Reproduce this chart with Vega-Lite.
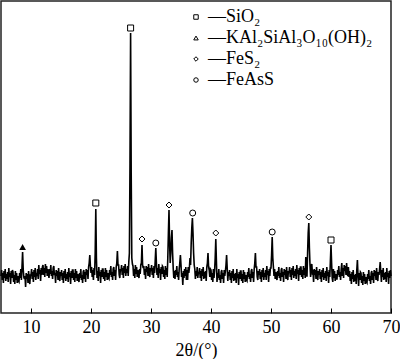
{
  "$schema": "https://vega.github.io/schema/vega-lite/v6.json",
  "width": 390,
  "height": 312,
  "autosize": {"type": "none"},
  "padding": {"left": 1, "top": 1, "right": 9, "bottom": 46},
  "background": "white",
  "config": {
    "font": "Liberation Serif, serif",
    "view": {"stroke": "#222", "strokeWidth": 1.5},
    "axis": {"labelFont": "Liberation Serif, serif", "titleFont": "Liberation Serif, serif"},
    "legend": {"labelFont": "Liberation Serif, serif", "titleFont": "Liberation Serif, serif"}
  },
  "datasets": {
    "xrd": [
      {"t":5.0,"v":37},{"t":5.1,"v":43},{"t":5.2,"v":33},{"t":5.3,"v":40},{"t":5.4,"v":30},{"t":5.5,"v":42},{"t":5.6,"v":35},{"t":5.7,"v":44},{"t":5.8,"v":32},{"t":5.9,"v":39},
      {"t":6.0,"v":34},{"t":6.1,"v":41},{"t":6.2,"v":31},{"t":6.3,"v":45},{"t":6.4,"v":36},{"t":6.5,"v":40},{"t":6.6,"v":29},{"t":6.7,"v":42},{"t":6.8,"v":35},{"t":6.9,"v":43},
      {"t":7.0,"v":41},{"t":7.1,"v":31},{"t":7.2,"v":38},{"t":7.3,"v":29},{"t":7.4,"v":42},{"t":7.5,"v":33},{"t":7.6,"v":40},{"t":7.7,"v":30},{"t":7.8,"v":37},{"t":7.9,"v":32},
      {"t":8.0,"v":31},{"t":8.1,"v":40},{"t":8.2,"v":35},{"t":8.3,"v":44},{"t":8.4,"v":33},{"t":8.5,"v":46},{"t":8.6,"v":61},{"t":8.7,"v":44},{"t":8.8,"v":36},{"t":8.9,"v":34},
      {"t":9.0,"v":37},{"t":9.1,"v":26},{"t":9.2,"v":40},{"t":9.3,"v":34},{"t":9.4,"v":39},{"t":9.5,"v":30},{"t":9.6,"v":42},{"t":9.7,"v":32},{"t":9.8,"v":29},{"t":9.9,"v":38},
      {"t":10.0,"v":38},{"t":10.1,"v":44},{"t":10.2,"v":34},{"t":10.3,"v":41},{"t":10.4,"v":31},{"t":10.5,"v":43},{"t":10.6,"v":36},{"t":10.7,"v":45},{"t":10.8,"v":33},{"t":10.9,"v":40},
      {"t":11.0,"v":37},{"t":11.1,"v":44},{"t":11.2,"v":34},{"t":11.3,"v":48},{"t":11.4,"v":39},{"t":11.5,"v":43},{"t":11.6,"v":32},{"t":11.7,"v":45},{"t":11.8,"v":38},{"t":11.9,"v":46},
      {"t":12.0,"v":48},{"t":12.1,"v":38},{"t":12.2,"v":45},{"t":12.3,"v":36},{"t":12.4,"v":49},{"t":12.5,"v":40},{"t":12.6,"v":47},{"t":12.7,"v":37},{"t":12.8,"v":44},{"t":12.9,"v":39},
      {"t":13.0,"v":35},{"t":13.1,"v":44},{"t":13.2,"v":39},{"t":13.3,"v":48},{"t":13.4,"v":37},{"t":13.5,"v":42},{"t":13.6,"v":34},{"t":13.7,"v":45},{"t":13.8,"v":47},{"t":13.9,"v":38},
      {"t":14.0,"v":40},{"t":14.1,"v":30},{"t":14.2,"v":43},{"t":14.3,"v":37},{"t":14.4,"v":42},{"t":14.5,"v":33},{"t":14.6,"v":45},{"t":14.7,"v":35},{"t":14.8,"v":32},{"t":14.9,"v":41},
      {"t":15.0,"v":37},{"t":15.1,"v":43},{"t":15.2,"v":33},{"t":15.3,"v":40},{"t":15.4,"v":30},{"t":15.5,"v":42},{"t":15.6,"v":35},{"t":15.7,"v":44},{"t":15.8,"v":32},{"t":15.9,"v":39},
      {"t":16.0,"v":34},{"t":16.1,"v":41},{"t":16.2,"v":31},{"t":16.3,"v":45},{"t":16.4,"v":36},{"t":16.5,"v":40},{"t":16.6,"v":29},{"t":16.7,"v":42},{"t":16.8,"v":35},{"t":16.9,"v":43},
      {"t":17.0,"v":43},{"t":17.1,"v":33},{"t":17.2,"v":40},{"t":17.3,"v":31},{"t":17.4,"v":44},{"t":17.5,"v":35},{"t":17.6,"v":42},{"t":17.7,"v":32},{"t":17.8,"v":39},{"t":17.9,"v":34},
      {"t":18.0,"v":31},{"t":18.1,"v":40},{"t":18.2,"v":35},{"t":18.3,"v":44},{"t":18.4,"v":33},{"t":18.5,"v":38},{"t":18.6,"v":30},{"t":18.7,"v":41},{"t":18.8,"v":43},{"t":18.9,"v":34},
      {"t":19.0,"v":41},{"t":19.1,"v":31},{"t":19.2,"v":44},{"t":19.3,"v":38},{"t":19.4,"v":43},{"t":19.5,"v":34},{"t":19.6,"v":46},{"t":19.7,"v":50},{"t":19.8,"v":58},{"t":19.9,"v":47},
      {"t":20.0,"v":40},{"t":20.1,"v":46},{"t":20.2,"v":36},{"t":20.3,"v":43},{"t":20.4,"v":33},{"t":20.5,"v":45},{"t":20.6,"v":38},{"t":20.7,"v":60},{"t":20.8,"v":104},{"t":20.9,"v":55},
      {"t":21.0,"v":35},{"t":21.1,"v":42},{"t":21.2,"v":32},{"t":21.3,"v":46},{"t":21.4,"v":37},{"t":21.5,"v":41},{"t":21.6,"v":30},{"t":21.7,"v":43},{"t":21.8,"v":36},{"t":21.9,"v":44},
      {"t":22.0,"v":44},{"t":22.1,"v":34},{"t":22.2,"v":41},{"t":22.3,"v":32},{"t":22.4,"v":45},{"t":22.5,"v":36},{"t":22.6,"v":43},{"t":22.7,"v":33},{"t":22.8,"v":40},{"t":22.9,"v":35},
      {"t":23.0,"v":34},{"t":23.1,"v":43},{"t":23.2,"v":38},{"t":23.3,"v":47},{"t":23.4,"v":36},{"t":23.5,"v":41},{"t":23.6,"v":33},{"t":23.7,"v":44},{"t":23.8,"v":46},{"t":23.9,"v":37},
      {"t":24.0,"v":43},{"t":24.1,"v":33},{"t":24.2,"v":46},{"t":24.3,"v":50},{"t":24.4,"v":62},{"t":24.5,"v":48},{"t":24.6,"v":48},{"t":24.7,"v":38},{"t":24.8,"v":35},{"t":24.9,"v":44},
      {"t":25.0,"v":42},{"t":25.1,"v":48},{"t":25.2,"v":38},{"t":25.3,"v":45},{"t":25.4,"v":35},{"t":25.5,"v":47},{"t":25.6,"v":40},{"t":25.7,"v":49},{"t":25.8,"v":37},{"t":25.9,"v":44},
      {"t":26.0,"v":40},{"t":26.1,"v":47},{"t":26.2,"v":37},{"t":26.3,"v":51},{"t":26.4,"v":60},{"t":26.5,"v":150},{"t":26.6,"v":280},{"t":26.7,"v":140},{"t":26.8,"v":55},{"t":26.9,"v":49},
      {"t":27.0,"v":47},{"t":27.1,"v":37},{"t":27.2,"v":44},{"t":27.3,"v":35},{"t":27.4,"v":48},{"t":27.5,"v":39},{"t":27.6,"v":46},{"t":27.7,"v":36},{"t":27.8,"v":43},{"t":27.9,"v":38},
      {"t":28.0,"v":35},{"t":28.1,"v":44},{"t":28.2,"v":39},{"t":28.3,"v":48},{"t":28.4,"v":50},{"t":28.5,"v":68},{"t":28.6,"v":48},{"t":28.7,"v":45},{"t":28.8,"v":47},{"t":28.9,"v":38},
      {"t":29.0,"v":44},{"t":29.1,"v":34},{"t":29.2,"v":47},{"t":29.3,"v":41},{"t":29.4,"v":46},{"t":29.5,"v":37},{"t":29.6,"v":49},{"t":29.7,"v":39},{"t":29.8,"v":36},{"t":29.9,"v":45},
      {"t":30.0,"v":42},{"t":30.1,"v":48},{"t":30.2,"v":38},{"t":30.3,"v":45},{"t":30.4,"v":35},{"t":30.5,"v":47},{"t":30.6,"v":40},{"t":30.7,"v":52},{"t":30.8,"v":65},{"t":30.9,"v":50},
      {"t":31.0,"v":38},{"t":31.1,"v":45},{"t":31.2,"v":35},{"t":31.3,"v":49},{"t":31.4,"v":40},{"t":31.5,"v":44},{"t":31.6,"v":33},{"t":31.7,"v":46},{"t":31.8,"v":39},{"t":31.9,"v":47},
      {"t":32.0,"v":46},{"t":32.1,"v":36},{"t":32.2,"v":43},{"t":32.3,"v":34},{"t":32.4,"v":47},{"t":32.5,"v":38},{"t":32.6,"v":45},{"t":32.7,"v":36},{"t":32.8,"v":55},{"t":32.9,"v":80},
      {"t":33.0,"v":103},{"t":33.1,"v":70},{"t":33.2,"v":50},{"t":33.3,"v":60},{"t":33.4,"v":75},{"t":33.5,"v":83},{"t":33.6,"v":60},{"t":33.7,"v":45},{"t":33.8,"v":35},{"t":33.9,"v":42},
      {"t":34.0,"v":34},{"t":34.1,"v":43},{"t":34.2,"v":38},{"t":34.3,"v":47},{"t":34.4,"v":36},{"t":34.5,"v":41},{"t":34.6,"v":33},{"t":34.7,"v":44},{"t":34.8,"v":50},{"t":34.9,"v":58},
      {"t":35.0,"v":48},{"t":35.1,"v":36},{"t":35.2,"v":40},{"t":35.3,"v":28},{"t":35.4,"v":42},{"t":35.5,"v":35},{"t":35.6,"v":44},{"t":35.7,"v":37},{"t":35.8,"v":46},{"t":35.9,"v":33},
      {"t":36.0,"v":43},{"t":36.1,"v":33},{"t":36.2,"v":46},{"t":36.3,"v":40},{"t":36.4,"v":45},{"t":36.5,"v":55},{"t":36.6,"v":48},{"t":36.7,"v":70},{"t":36.8,"v":85},{"t":36.9,"v":95},
      {"t":37.0,"v":80},{"t":37.1,"v":60},{"t":37.2,"v":48},{"t":37.3,"v":44},{"t":37.4,"v":34},{"t":37.5,"v":42},{"t":37.6,"v":37},{"t":37.7,"v":46},{"t":37.8,"v":35},{"t":37.9,"v":41},
      {"t":38.0,"v":39},{"t":38.1,"v":45},{"t":38.2,"v":35},{"t":38.3,"v":42},{"t":38.4,"v":32},{"t":38.5,"v":44},{"t":38.6,"v":37},{"t":38.7,"v":46},{"t":38.8,"v":34},{"t":38.9,"v":41},
      {"t":39.0,"v":35},{"t":39.1,"v":42},{"t":39.2,"v":32},{"t":39.3,"v":46},{"t":39.4,"v":50},{"t":39.5,"v":60},{"t":39.6,"v":46},{"t":39.7,"v":43},{"t":39.8,"v":36},{"t":39.9,"v":44},
      {"t":40.0,"v":43},{"t":40.1,"v":33},{"t":40.2,"v":40},{"t":40.3,"v":31},{"t":40.4,"v":44},{"t":40.5,"v":35},{"t":40.6,"v":42},{"t":40.7,"v":55},{"t":40.8,"v":74},{"t":40.9,"v":52},
      {"t":41.0,"v":31},{"t":41.1,"v":40},{"t":41.2,"v":35},{"t":41.3,"v":44},{"t":41.4,"v":33},{"t":41.5,"v":38},{"t":41.6,"v":30},{"t":41.7,"v":41},{"t":41.8,"v":43},{"t":41.9,"v":34},
      {"t":42.0,"v":40},{"t":42.1,"v":30},{"t":42.2,"v":43},{"t":42.3,"v":37},{"t":42.4,"v":42},{"t":42.5,"v":48},{"t":42.6,"v":58},{"t":42.7,"v":45},{"t":42.8,"v":32},{"t":42.9,"v":41},
      {"t":43.0,"v":37},{"t":43.1,"v":43},{"t":43.2,"v":33},{"t":43.3,"v":40},{"t":43.4,"v":30},{"t":43.5,"v":42},{"t":43.6,"v":35},{"t":43.7,"v":44},{"t":43.8,"v":32},{"t":43.9,"v":39},
      {"t":44.0,"v":33},{"t":44.1,"v":40},{"t":44.2,"v":30},{"t":44.3,"v":44},{"t":44.4,"v":35},{"t":44.5,"v":39},{"t":44.6,"v":28},{"t":44.7,"v":41},{"t":44.8,"v":34},{"t":44.9,"v":42},
      {"t":45.0,"v":42},{"t":45.1,"v":32},{"t":45.2,"v":39},{"t":45.3,"v":30},{"t":45.4,"v":43},{"t":45.5,"v":34},{"t":45.6,"v":41},{"t":45.7,"v":31},{"t":45.8,"v":38},{"t":45.9,"v":33},
      {"t":46.0,"v":32},{"t":46.1,"v":41},{"t":46.2,"v":36},{"t":46.3,"v":45},{"t":46.4,"v":34},{"t":46.5,"v":39},{"t":46.6,"v":31},{"t":46.7,"v":42},{"t":46.8,"v":44},{"t":46.9,"v":35},
      {"t":47.0,"v":41},{"t":47.1,"v":31},{"t":47.2,"v":44},{"t":47.3,"v":50},{"t":47.4,"v":60},{"t":47.5,"v":46},{"t":47.6,"v":46},{"t":47.7,"v":36},{"t":47.8,"v":33},{"t":47.9,"v":42},
      {"t":48.0,"v":38},{"t":48.1,"v":44},{"t":48.2,"v":34},{"t":48.3,"v":41},{"t":48.4,"v":31},{"t":48.5,"v":43},{"t":48.6,"v":36},{"t":48.7,"v":45},{"t":48.8,"v":33},{"t":48.9,"v":40},
      {"t":49.0,"v":36},{"t":49.1,"v":43},{"t":49.2,"v":33},{"t":49.3,"v":47},{"t":49.4,"v":38},{"t":49.5,"v":42},{"t":49.6,"v":31},{"t":49.7,"v":44},{"t":49.8,"v":37},{"t":49.9,"v":45},
      {"t":50.0,"v":45},{"t":50.1,"v":58},{"t":50.2,"v":76},{"t":50.3,"v":55},{"t":50.4,"v":46},{"t":50.5,"v":37},{"t":50.6,"v":44},{"t":50.7,"v":34},{"t":50.8,"v":41},{"t":50.9,"v":36},
      {"t":51.0,"v":33},{"t":51.1,"v":42},{"t":51.2,"v":37},{"t":51.3,"v":46},{"t":51.4,"v":35},{"t":51.5,"v":40},{"t":51.6,"v":32},{"t":51.7,"v":43},{"t":51.8,"v":45},{"t":51.9,"v":36},
      {"t":52.0,"v":41},{"t":52.1,"v":31},{"t":52.2,"v":44},{"t":52.3,"v":38},{"t":52.4,"v":43},{"t":52.5,"v":34},{"t":52.6,"v":46},{"t":52.7,"v":36},{"t":52.8,"v":33},{"t":52.9,"v":42},
      {"t":53.0,"v":40},{"t":53.1,"v":46},{"t":53.2,"v":36},{"t":53.3,"v":43},{"t":53.4,"v":33},{"t":53.5,"v":45},{"t":53.6,"v":38},{"t":53.7,"v":47},{"t":53.8,"v":35},{"t":53.9,"v":42},
      {"t":54.0,"v":37},{"t":54.1,"v":44},{"t":54.2,"v":34},{"t":54.3,"v":48},{"t":54.4,"v":39},{"t":54.5,"v":43},{"t":54.6,"v":32},{"t":54.7,"v":45},{"t":54.8,"v":38},{"t":54.9,"v":46},
      {"t":55.0,"v":46},{"t":55.1,"v":36},{"t":55.2,"v":43},{"t":55.3,"v":34},{"t":55.4,"v":47},{"t":55.5,"v":38},{"t":55.6,"v":45},{"t":55.7,"v":35},{"t":55.8,"v":56},{"t":55.9,"v":37},
      {"t":56.0,"v":37},{"t":56.1,"v":60},{"t":56.2,"v":80},{"t":56.3,"v":90},{"t":56.4,"v":65},{"t":56.5,"v":48},{"t":56.6,"v":36},{"t":56.7,"v":47},{"t":56.8,"v":49},{"t":56.9,"v":40},
      {"t":57.0,"v":41},{"t":57.1,"v":31},{"t":57.2,"v":44},{"t":57.3,"v":38},{"t":57.4,"v":43},{"t":57.5,"v":34},{"t":57.6,"v":46},{"t":57.7,"v":36},{"t":57.8,"v":33},{"t":57.9,"v":42},
      {"t":58.0,"v":38},{"t":58.1,"v":44},{"t":58.2,"v":34},{"t":58.3,"v":41},{"t":58.4,"v":31},{"t":58.5,"v":43},{"t":58.6,"v":36},{"t":58.7,"v":45},{"t":58.8,"v":33},{"t":58.9,"v":40},
      {"t":59.0,"v":35},{"t":59.1,"v":42},{"t":59.2,"v":32},{"t":59.3,"v":46},{"t":59.4,"v":37},{"t":59.5,"v":41},{"t":59.6,"v":30},{"t":59.7,"v":43},{"t":59.8,"v":36},{"t":59.9,"v":52},
      {"t":60.0,"v":68},{"t":60.1,"v":50},{"t":60.2,"v":35},{"t":60.3,"v":31},{"t":60.4,"v":44},{"t":60.5,"v":35},{"t":60.6,"v":42},{"t":60.7,"v":32},{"t":60.8,"v":39},{"t":60.9,"v":34},
      {"t":61.0,"v":34},{"t":61.1,"v":43},{"t":61.2,"v":38},{"t":61.3,"v":47},{"t":61.4,"v":36},{"t":61.5,"v":41},{"t":61.6,"v":33},{"t":61.7,"v":44},{"t":61.8,"v":50},{"t":61.9,"v":37},
      {"t":62.0,"v":45},{"t":62.1,"v":35},{"t":62.2,"v":48},{"t":62.3,"v":42},{"t":62.4,"v":47},{"t":62.5,"v":38},{"t":62.6,"v":50},{"t":62.7,"v":40},{"t":62.8,"v":37},{"t":62.9,"v":46},
      {"t":63.0,"v":36},{"t":63.1,"v":42},{"t":63.2,"v":32},{"t":63.3,"v":39},{"t":63.4,"v":29},{"t":63.5,"v":41},{"t":63.6,"v":34},{"t":63.7,"v":43},{"t":63.8,"v":31},{"t":63.9,"v":38},
      {"t":64.0,"v":32},{"t":64.1,"v":39},{"t":64.2,"v":29},{"t":64.3,"v":43},{"t":64.4,"v":53},{"t":64.5,"v":38},{"t":64.6,"v":27},{"t":64.7,"v":40},{"t":64.8,"v":33},{"t":64.9,"v":41},
      {"t":65.0,"v":40},{"t":65.1,"v":30},{"t":65.2,"v":37},{"t":65.3,"v":28},{"t":65.4,"v":41},{"t":65.5,"v":32},{"t":65.6,"v":39},{"t":65.7,"v":29},{"t":65.8,"v":36},{"t":65.9,"v":31},
      {"t":66.0,"v":30},{"t":66.1,"v":39},{"t":66.2,"v":34},{"t":66.3,"v":43},{"t":66.4,"v":32},{"t":66.5,"v":37},{"t":66.6,"v":29},{"t":66.7,"v":40},{"t":66.8,"v":42},{"t":66.9,"v":33},
      {"t":67.0,"v":40},{"t":67.1,"v":30},{"t":67.2,"v":43},{"t":67.3,"v":37},{"t":67.4,"v":42},{"t":67.5,"v":33},{"t":67.6,"v":45},{"t":67.7,"v":35},{"t":67.8,"v":32},{"t":67.9,"v":41},
      {"t":68.0,"v":38},{"t":68.1,"v":44},{"t":68.2,"v":51},{"t":68.3,"v":41},{"t":68.4,"v":31},{"t":68.5,"v":43},{"t":68.6,"v":36},{"t":68.7,"v":45},{"t":68.8,"v":33},{"t":68.9,"v":40},
      {"t":69.0,"v":34},{"t":69.1,"v":41},{"t":69.2,"v":31},{"t":69.3,"v":45},{"t":69.4,"v":36},{"t":69.5,"v":40},{"t":69.6,"v":29},{"t":69.7,"v":42},{"t":69.8,"v":35},{"t":69.9,"v":43},
      {"t":70.0,"v":37}
    ],
    "peaks": [
      {"t":20.8,"v":110,"phase":"SiO₂"},
      {"t":26.6,"v":285,"phase":"SiO₂"},
      {"t":60.0,"v":73,"phase":"SiO₂"},
      {"t":28.5,"v":74,"phase":"FeS₂"},
      {"t":33.0,"v":108,"phase":"FeS₂"},
      {"t":40.8,"v":80,"phase":"FeS₂"},
      {"t":56.3,"v":96,"phase":"FeS₂"},
      {"t":30.8,"v":70,"phase":"FeAsS"},
      {"t":36.95,"v":100,"phase":"FeAsS"},
      {"t":50.2,"v":81,"phase":"FeAsS"}
    ],
    "mica": [
      {"t":8.6,"v":66}
    ]
  },
  "encoding": {
    "x": {
      "field": "t", "type": "quantitative",
      "scale": {"domain": [5, 70], "nice": false},
      "axis": {
        "values": [10, 20, 30, 40, 50, 60, 70],
        "tickSize": -5, "tickColor": "black", "tickWidth": 1,
        "domain": false, "grid": false,
        "labelFont": "Liberation Serif, serif", "labelFontSize": 18, "labelColor": "black", "labelFlush": false, "labelPadding": 10,
        "title": "2θ/(°)", "titleFont": "Liberation Serif, serif", "titleFontSize": 18, "titleFontWeight": "normal", "titleColor": "black", "titlePadding": 5
      }
    },
    "y": {
      "field": "v", "type": "quantitative",
      "scale": {"domain": [0, 312], "nice": false},
      "axis": null
    }
  },
  "layer": [
    {
      "data": {"name": "xrd"},
      "mark": {"type": "line", "color": "black", "strokeWidth": 1.6}
    },
    {
      "data": {"name": "peaks"},
      "mark": {"type": "point", "filled": false, "color": "black", "strokeWidth": 1, "size": 36, "opacity": 1},
      "encoding": {
        "shape": {
          "field": "phase", "type": "nominal",
          "scale": {
            "domain": ["SiO₂", "KAl₂SiAl₃O₁₀(OH)₂", "FeS₂", "FeAsS"],
            "range": ["square", "triangle-up", "diamond", "circle"]
          },
          "legend": {
            "orient": "none", "legendX": 186, "legendY": 7,
            "title": null,
            "labelExpr": "'—' + datum.label",
            "labelFont": "Liberation Serif, serif",
            "labelFontSize": 18, "labelColor": "black", "labelOffset": 3, "labelLimit": 400,
            "symbolSize": 20, "symbolStrokeColor": "black", "symbolFillColor": "transparent", "symbolStrokeWidth": 1,
            "rowPadding": 3, "padding": 0
          }
        }
      }
    },
    {
      "data": {"name": "mica"},
      "mark": {"type": "point", "shape": "triangle-up", "filled": true, "color": "black", "size": 45, "opacity": 1}
    }
  ]
}
